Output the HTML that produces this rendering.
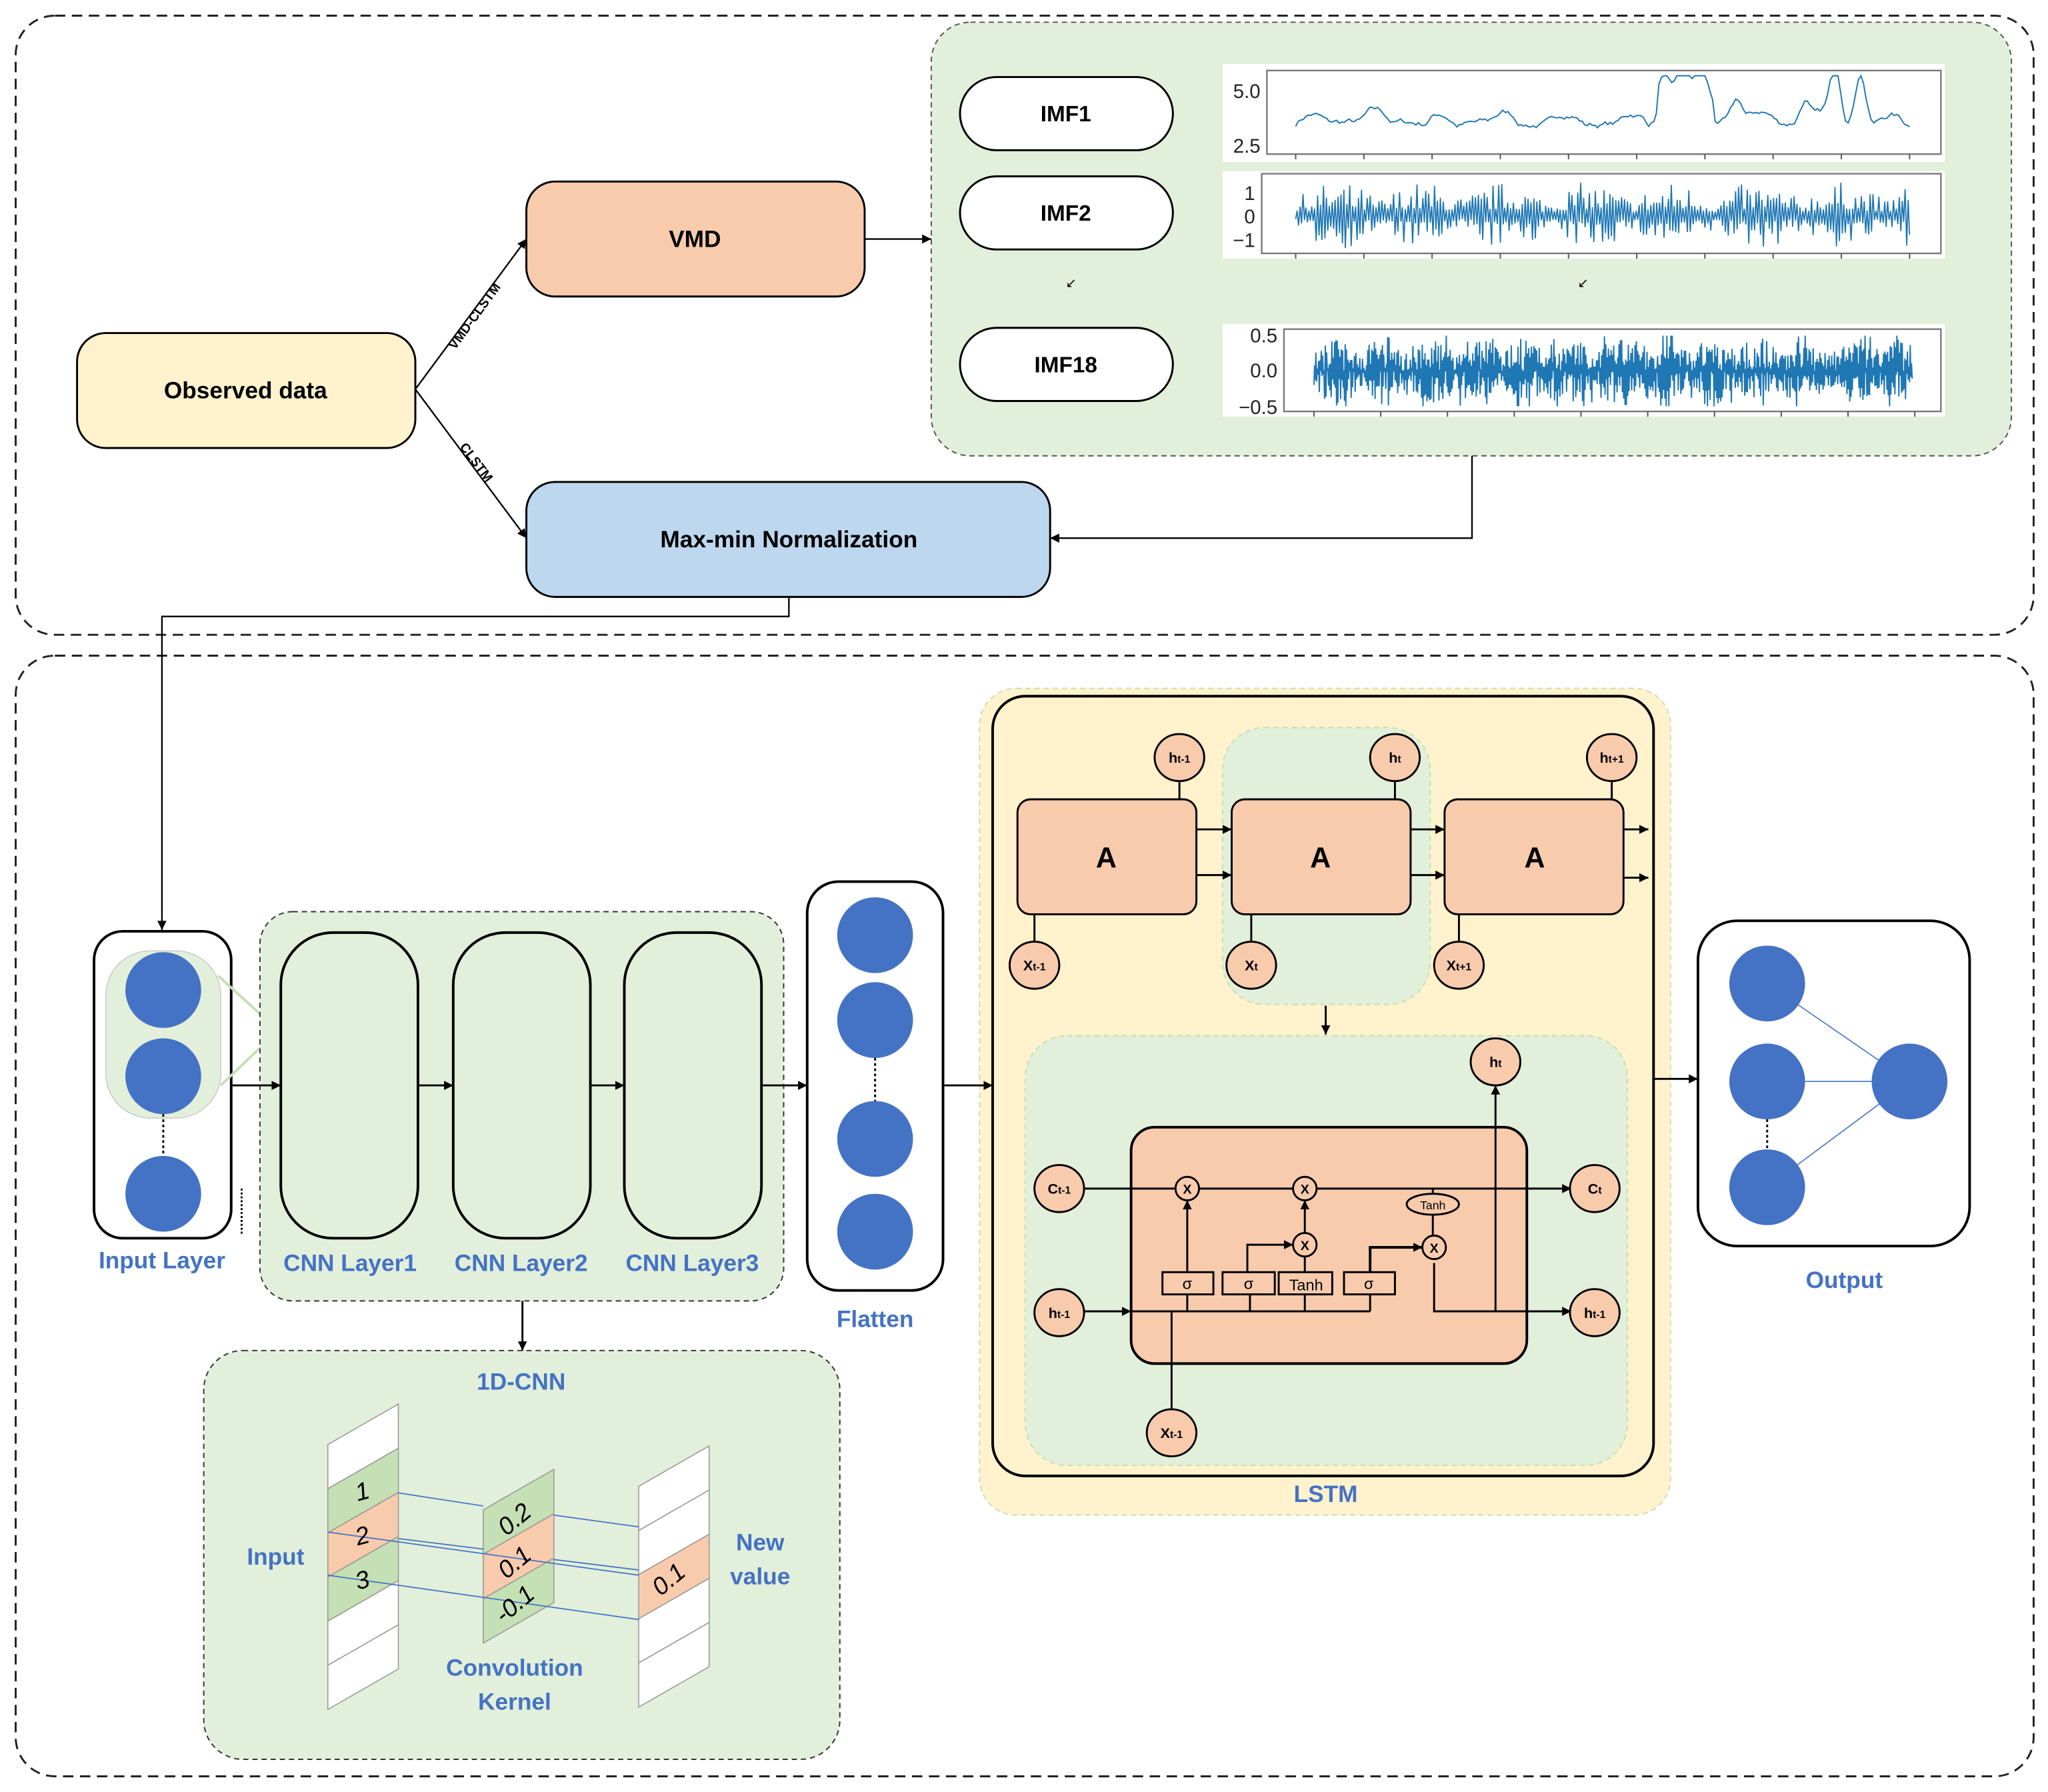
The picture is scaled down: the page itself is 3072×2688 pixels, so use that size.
<!DOCTYPE html>
<html><head><meta charset="utf-8"><style>
html,body{margin:0;padding:0;background:#fff;}
svg{display:block;}
text{font-family:"Liberation Sans",sans-serif;}
.b{font-weight:bold;}
.blue{fill:#4472c4;font-weight:bold;font-size:18px;}
</style></head><body>
<svg id="s" width="3072" height="2688" viewBox="0 0 1568 1372" preserveAspectRatio="none" xmlns="http://www.w3.org/2000/svg">
<defs>
<marker id="ar" viewBox="0 0 10 10" refX="10" refY="5" markerWidth="7" markerHeight="7" orient="auto" markerUnits="userSpaceOnUse"><path d="M0,0 L10,5 L0,10z" fill="#000"/></marker>
</defs>
<!-- outer dashed boxes -->
<rect x="12" y="12" width="1545" height="474" rx="30" fill="#fff" stroke="#222" stroke-width="1.5" stroke-dasharray="8,5"/>
<rect x="12" y="502" width="1545" height="858" rx="30" fill="#fff" stroke="#222" stroke-width="1.5" stroke-dasharray="8,5"/>

<!-- top section -->
<rect x="713" y="17" width="827" height="332" rx="30" fill="#e2efda" stroke="#555" stroke-width="1" stroke-dasharray="4,3"/>
<rect x="59" y="255" width="259" height="88" rx="22" fill="#fff2cc" stroke="#000" stroke-width="1.5"/>
<text x="188" y="305" text-anchor="middle" class="b" font-size="18">Observed data</text>
<rect x="403" y="139" width="259" height="88" rx="22" fill="#f8cbad" stroke="#000" stroke-width="1.5"/>
<text x="532" y="189" text-anchor="middle" class="b" font-size="18">VMD</text>
<rect x="403" y="369" width="401" height="88" rx="22" fill="#bdd7ee" stroke="#000" stroke-width="1.5"/>
<text x="604" y="419" text-anchor="middle" class="b" font-size="18">Max-min Normalization</text>
<line x1="318" y1="298" x2="403" y2="183" stroke="#000" stroke-width="1.2" marker-end="url(#ar)"/>
<line x1="318" y1="298" x2="403" y2="412" stroke="#000" stroke-width="1.2" marker-end="url(#ar)"/>
<text transform="translate(366,244) rotate(-54)" text-anchor="middle" class="b" font-size="10">VMD-CLSTM</text>
<text transform="translate(362,356) rotate(53)" text-anchor="middle" class="b" font-size="10">CLSTM</text>
<line x1="662" y1="183" x2="713" y2="183" stroke="#000" stroke-width="1.2" marker-end="url(#ar)"/>
<polyline points="1127,349 1127,412 804,412" fill="none" stroke="#000" stroke-width="1.2" marker-end="url(#ar)"/>
<polyline points="604,457 604,472 124,472 124,712" fill="none" stroke="#000" stroke-width="1.2" marker-end="url(#ar)"/>

<rect x="735" y="59" width="163" height="56" rx="28" fill="#fff" stroke="#000" stroke-width="1.5"/>
<text x="816" y="93" text-anchor="middle" class="b" font-size="17">IMF1</text>
<rect x="735" y="135" width="163" height="56" rx="28" fill="#fff" stroke="#000" stroke-width="1.5"/>
<text x="816" y="169" text-anchor="middle" class="b" font-size="17">IMF2</text>
<rect x="735" y="251" width="163" height="56" rx="28" fill="#fff" stroke="#000" stroke-width="1.5"/>
<text x="816" y="285" text-anchor="middle" class="b" font-size="17">IMF18</text>
<text x="820" y="220" font-size="10" text-anchor="middle">↙</text>
<text x="1212" y="220" font-size="10" text-anchor="middle">↙</text>

<rect x="936" y="49" width="553" height="75" fill="#fff"/>
<rect x="936" y="131" width="553" height="67" fill="#fff"/>
<rect x="936" y="248" width="553" height="71" fill="#fff"/>
<rect x="970" y="54" width="516" height="64" fill="none" stroke="#777" stroke-width="1.2"/>
<rect x="966" y="133" width="520" height="61" fill="none" stroke="#777" stroke-width="1.2"/>
<rect x="983" y="252" width="503" height="63" fill="none" stroke="#777" stroke-width="1.2"/>
<g font-size="15" fill="#222" text-anchor="end">
<text x="965" y="75">5.0</text><text x="965" y="117">2.5</text>
<text x="961" y="153">1</text><text x="961" y="171">0</text><text x="961" y="189">−1</text>
<text x="978" y="262">0.5</text><text x="978" y="289">0.0</text><text x="978" y="317">−0.5</text>
</g>
<g id="plots"></g>

<!-- bottom section -->
<rect x="72" y="713" width="105" height="235" rx="22" fill="#fff" stroke="#000" stroke-width="2"/>
<rect x="81" y="728" width="88" height="128" rx="34" fill="#e2efda" stroke="#ccc" stroke-width="0.8"/>
<polyline points="167,747 213,789 169,831" fill="none" stroke="#c5e0b4" stroke-width="2"/>
<circle cx="125" cy="758" r="29" fill="#4472c4"/>
<circle cx="125" cy="824" r="29" fill="#4472c4"/>
<circle cx="125" cy="914" r="29" fill="#4472c4"/>
<line x1="125" y1="853" x2="125" y2="885" stroke="#000" stroke-width="1.5" stroke-dasharray="2,2"/>
<line x1="185" y1="910" x2="185" y2="945" stroke="#000" stroke-width="1.5" stroke-dasharray="1.5,1.5"/>
<text x="124" y="971" text-anchor="middle" class="blue">Input Layer</text>

<rect x="199" y="698" width="401" height="298" rx="25" fill="#e2efda" stroke="#333" stroke-width="1" stroke-dasharray="4,3"/>
<rect x="215" y="714" width="105" height="234" rx="40" fill="#e2efda" stroke="#000" stroke-width="2"/>
<rect x="347" y="714" width="105" height="234" rx="40" fill="#e2efda" stroke="#000" stroke-width="2"/>
<rect x="478" y="714" width="105" height="234" rx="40" fill="#e2efda" stroke="#000" stroke-width="2"/>
<text x="268" y="973" text-anchor="middle" class="blue">CNN Layer1</text>
<text x="399" y="973" text-anchor="middle" class="blue">CNN Layer2</text>
<text x="530" y="973" text-anchor="middle" class="blue">CNN Layer3</text>

<rect x="618" y="675" width="104" height="313" rx="24" fill="#fff" stroke="#000" stroke-width="2"/>
<circle cx="670" cy="716" r="29" fill="#4472c4"/>
<circle cx="670" cy="781" r="29" fill="#4472c4"/>
<circle cx="670" cy="872" r="29" fill="#4472c4"/>
<circle cx="670" cy="943" r="29" fill="#4472c4"/>
<line x1="670" y1="810" x2="670" y2="843" stroke="#000" stroke-width="1.5" stroke-dasharray="2,2"/>
<text x="670" y="1016" text-anchor="middle" class="blue">Flatten</text>

<rect x="156" y="1034" width="487" height="313" rx="30" fill="#e2efda" stroke="#333" stroke-width="1" stroke-dasharray="4,3"/>
<text x="399" y="1064" text-anchor="middle" class="blue">1D-CNN</text>
<g id="strips" stroke="#999" stroke-width="0.8"></g>
<g stroke="#4472c4" stroke-width="0.9">
<line x1="305" y1="1143" x2="370" y2="1153"/>
<line x1="305" y1="1178" x2="370" y2="1186"/>
<line x1="251" y1="1173" x2="489" y2="1206"/>
<line x1="251" y1="1206" x2="489" y2="1240"/>
<line x1="424" y1="1160" x2="489" y2="1169"/>
<line x1="424" y1="1194" x2="489" y2="1202"/>
</g>
<g font-family="Liberation Serif,serif" font-style="italic" font-size="19" text-anchor="middle">
<text transform="translate(279,1148) rotate(-15)">1</text>
<text transform="translate(279,1182) rotate(-15)">2</text>
<text transform="translate(279,1216) rotate(-15)">3</text>
<text transform="translate(398,1168) rotate(-40)">0.2</text>
<text transform="translate(398,1201) rotate(-40)">0.1</text>
<text transform="translate(398,1233) rotate(-40)">-0.1</text>
<text transform="translate(516,1214) rotate(-40)">0.1</text>
</g>
<text x="211" y="1198" text-anchor="middle" class="blue">Input</text>
<text x="394" y="1283" text-anchor="middle" class="blue">Convolution</text>
<text x="394" y="1309" text-anchor="middle" class="blue">Kernel</text>
<text x="582" y="1187" text-anchor="middle" class="blue">New</text>
<text x="582" y="1213" text-anchor="middle" class="blue">value</text>

<!-- LSTM -->
<rect x="750" y="527" width="529" height="633" rx="28" fill="#fff2cc" stroke="#c5e0b4" stroke-width="1" stroke-dasharray="4,3"/>
<rect x="760" y="533" width="506" height="597" rx="25" fill="#fff2cc" stroke="#000" stroke-width="2"/>
<rect x="936" y="557" width="159" height="212" rx="32" fill="#e2efda" stroke="#c5e0b4" stroke-width="1" stroke-dasharray="4,3"/>
<g stroke="#000" stroke-width="1.5" fill="#f8cbad">
<line x1="903" y1="598" x2="903" y2="612"/><line x1="1068" y1="598" x2="1068" y2="612"/><line x1="1234" y1="598" x2="1234" y2="612"/>
<line x1="792" y1="700" x2="792" y2="721"/><line x1="958" y1="700" x2="958" y2="721"/><line x1="1117" y1="700" x2="1117" y2="721"/>
<rect x="779" y="612" width="137" height="88" rx="10"/>
<rect x="943" y="612" width="137" height="88" rx="10"/>
<rect x="1106" y="612" width="137" height="88" rx="10"/>
<ellipse cx="903" cy="580" rx="19" ry="18"/><ellipse cx="1068" cy="580" rx="19" ry="18"/><ellipse cx="1234" cy="580" rx="19" ry="18"/>
<ellipse cx="792" cy="739" rx="19" ry="18"/><ellipse cx="958" cy="739" rx="19" ry="18"/><ellipse cx="1117" cy="739" rx="19" ry="18"/>
<line x1="916" y1="635" x2="943" y2="635" marker-end="url(#ar)"/><line x1="916" y1="670" x2="943" y2="670" marker-end="url(#ar)"/>
<line x1="1080" y1="635" x2="1106" y2="635" marker-end="url(#ar)"/><line x1="1080" y1="670" x2="1106" y2="670" marker-end="url(#ar)"/>
<line x1="1243" y1="635" x2="1262" y2="635" marker-end="url(#ar)"/><line x1="1243" y1="672" x2="1262" y2="672" marker-end="url(#ar)"/>
<line x1="1015" y1="770" x2="1015" y2="792" marker-end="url(#ar)"/>
</g>
<g class="b" font-size="22" text-anchor="middle"><text x="847" y="664">A</text><text x="1011" y="664">A</text><text x="1175" y="664">A</text></g>
<g class="b" font-size="11" text-anchor="middle">
<text x="903" y="584">h<tspan font-size="8">t-1</tspan></text><text x="1068" y="584">h<tspan font-size="8">t</tspan></text><text x="1234" y="584">h<tspan font-size="8">t+1</tspan></text>
<text x="792" y="743">X<tspan font-size="8">t-1</tspan></text><text x="958" y="743">X<tspan font-size="8">t</tspan></text><text x="1117" y="743">X<tspan font-size="8">t+1</tspan></text>
</g>

<rect x="785" y="793" width="461" height="329" rx="32" fill="#e2efda" stroke="#c5e0b4" stroke-width="1" stroke-dasharray="4,3"/>
<rect x="866" y="863" width="303" height="181" rx="18" fill="#f8cbad" stroke="#000" stroke-width="2"/>
<g stroke="#000" stroke-width="1.5" fill="none">
<line x1="829" y1="910" x2="1203" y2="910" marker-end="url(#ar)"/>
<line x1="829" y1="1004" x2="866" y2="1004" marker-end="url(#ar)"/>
<line x1="866" y1="1004" x2="1049" y2="1004"/>
<polyline points="1098,967 1098,1004 1203,1004" marker-end="url(#ar)"/>
<line x1="1145" y1="1004" x2="1145" y2="831" marker-end="url(#ar)"/>
<line x1="897" y1="1004" x2="897" y2="1079"/>
<line x1="909" y1="1004" x2="909" y2="991"/><line x1="957" y1="1004" x2="957" y2="991"/><line x1="999" y1="1004" x2="999" y2="991"/><line x1="1049" y1="1004" x2="1049" y2="991"/>
<line x1="909" y1="974" x2="909" y2="919" marker-end="url(#ar)"/>
<polyline points="955,974 955,953 990,953" marker-end="url(#ar)"/>
<line x1="999" y1="974" x2="999" y2="962"/>
<line x1="999" y1="944" x2="999" y2="919" marker-end="url(#ar)"/>
<polyline points="1049,974 1049,955 1089,955" stroke-width="2" marker-end="url(#ar)"/>
<line x1="1097" y1="910" x2="1097" y2="946"/>
</g>
<g stroke="#000" stroke-width="1.5" fill="#f8cbad">
<circle cx="909" cy="910" r="9"/><circle cx="999" cy="910" r="9"/><circle cx="999" cy="953" r="9"/><circle cx="1098" cy="955" r="9"/>
<ellipse cx="1097" cy="922" rx="20" ry="8"/>
<rect x="890" y="974" width="39" height="17"/><rect x="936" y="974" width="40" height="17"/><rect x="979" y="974" width="41" height="17"/><rect x="1029" y="974" width="39" height="17"/>
<ellipse cx="811" cy="910" rx="19" ry="18"/><ellipse cx="811" cy="1005" rx="19" ry="18"/>
<ellipse cx="1221" cy="910" rx="19" ry="18"/><ellipse cx="1221" cy="1005" rx="19" ry="18"/>
<ellipse cx="1145" cy="813" rx="19" ry="18"/><ellipse cx="897" cy="1097" rx="19" ry="18"/>
</g>
<g font-size="10" text-anchor="middle" class="b">
<text x="909" y="914">X</text><text x="999" y="914">X</text><text x="999" y="957">X</text><text x="1098" y="959">X</text>
</g>
<g font-family="Liberation Serif,serif" font-size="12" text-anchor="middle">
<text x="909" y="987">σ</text><text x="956" y="987">σ</text><text x="1000" y="988">Tanh</text><text x="1048" y="987">σ</text>
</g>
<text x="1097" y="926" font-size="9" text-anchor="middle">Tanh</text>
<g class="b" font-size="11" text-anchor="middle">
<text x="811" y="914">C<tspan font-size="8">t-1</tspan></text><text x="811" y="1009">h<tspan font-size="8">t-1</tspan></text>
<text x="1221" y="914">C<tspan font-size="8">t</tspan></text><text x="1221" y="1009">h<tspan font-size="8">t-1</tspan></text>
<text x="1145" y="817">h<tspan font-size="8">t</tspan></text><text x="897" y="1101">X<tspan font-size="8">t-1</tspan></text>
</g>
<text x="1015" y="1150" text-anchor="middle" class="blue">LSTM</text>

<!-- Output -->
<rect x="1300" y="705" width="208" height="249" rx="30" fill="#fff" stroke="#000" stroke-width="2"/>
<g stroke="#4472c4" stroke-width="0.8"><line x1="1353" y1="753" x2="1462" y2="828"/><line x1="1353" y1="828" x2="1462" y2="828"/><line x1="1353" y1="909" x2="1462" y2="828"/></g>
<circle cx="1353" cy="753" r="29" fill="#4472c4"/>
<circle cx="1353" cy="828" r="29" fill="#4472c4"/>
<circle cx="1353" cy="909" r="29" fill="#4472c4"/>
<circle cx="1462" cy="828" r="29" fill="#4472c4"/>
<line x1="1353" y1="857" x2="1353" y2="880" stroke="#000" stroke-width="1.5" stroke-dasharray="2,2"/>
<text x="1412" y="986" text-anchor="middle" class="blue">Output</text>

<!-- connectors on top -->
<g stroke="#000" stroke-width="1.5">
<line x1="177" y1="831" x2="215" y2="831" marker-end="url(#ar)"/>
<line x1="320" y1="831" x2="347" y2="831" marker-end="url(#ar)"/>
<line x1="452" y1="831" x2="478" y2="831" marker-end="url(#ar)"/>
<line x1="583" y1="831" x2="618" y2="831" marker-end="url(#ar)"/>
<line x1="722" y1="831" x2="760" y2="831" marker-end="url(#ar)"/>
<line x1="1266" y1="826" x2="1300" y2="826" marker-end="url(#ar)"/>
<line x1="400" y1="996" x2="400" y2="1034" marker-end="url(#ar)"/>
</g>
</svg>
<script>
(function(){
var NS="http://www.w3.org/2000/svg";
var seed=7;function r(){seed=(seed*16807)%2147483647;return seed/2147483647;}
var g=document.getElementById("plots");
function pl(pts,w){var p=document.createElementNS(NS,"polyline");p.setAttribute("points",pts.join(" "));p.setAttribute("fill","none");p.setAttribute("stroke","#1f77b4");p.setAttribute("stroke-width",w);g.appendChild(p);}
function cl(y,a,b){return Math.max(a,Math.min(b,y));}
function ticks(x0,x1,y){for(var i=0;i<10;i++){var x=x0+(x1-x0)*i/9;var l=document.createElementNS(NS,"line");l.setAttribute("x1",x);l.setAttribute("x2",x);l.setAttribute("y1",y);l.setAttribute("y2",y+4);l.setAttribute("stroke","#555");g.appendChild(l);}}
ticks(992,1462,118);ticks(992,1462,194);ticks(1006,1466,315);
// plot1
var pts=[],v=0.3,peaks=[[0.6,0.7],[0.63,0.9],[0.66,0.7],[0.72,0.4],[0.83,0.5],[0.88,1.0],[0.92,1.1]];
for(var i=0;i<=240;i++){var t=i/240;v+=(r()-0.5)*0.12; v=v*0.9+0.03;
 var s=v;for(var k=0;k<peaks.length;k++){var d=(t-peaks[k][0])/0.012;s+=peaks[k][1]*Math.exp(-d*d);} if(t>0.59&&t<0.68)s+=0.35;
 s+=0.2*Math.max(0,Math.sin(t*60));
 pts.push((992+470*t).toFixed(1)+","+cl(106-s*38,58,114).toFixed(1));}
pl(pts,1);
// plot2
pts=[];for(var i=0;i<=420;i++){var t=i/420;var burst=0.5+0.5*Math.abs(Math.sin(t*23));var a=(0.2+0.8*Math.pow(r(),2))*burst;var y=(i%2?1:-1)*a;pts.push((992+470*t).toFixed(1)+","+cl(165-y*26,136,192).toFixed(1));}
pl(pts,0.9);
// plot3
pts=[];for(var i=0;i<=900;i++){var t=i/900;var env=0.3+0.3*Math.abs(Math.sin(t*40))+0.35*Math.pow(r(),4);var y=(i%2?1:-1)*env*r();pts.push((1006+458*t).toFixed(1)+","+cl(284-y*40,257,311).toFixed(1));}
pl(pts,1);
var sg=document.getElementById("strips");
function cell(x0,x1,yl,h,fill){var o=31;var p=document.createElementNS(NS,"polygon");p.setAttribute("points",[x0+","+yl,x1+","+(yl-o),x1+","+(yl-o+h),x0+","+(yl+h)].join(" "));p.setAttribute("fill",fill);sg.appendChild(p);}
var c1=["#fff","#c5e0b4","#f8cbad","#c5e0b4","#fff","#fff"];for(var i=0;i<6;i++)cell(251,305,1106+i*33.8,33.8,c1[i]);
var c2=["#c5e0b4","#f8cbad","#c5e0b4"];for(var i=0;i<3;i++)cell(370,424,1156+i*34,34,c2[i]);
var c3=["#fff","#fff","#f8cbad","#fff","#fff"];for(var i=0;i<5;i++)cell(489,543,1138+i*33.8,33.8,c3[i]);
})();
</script>
</body></html>
